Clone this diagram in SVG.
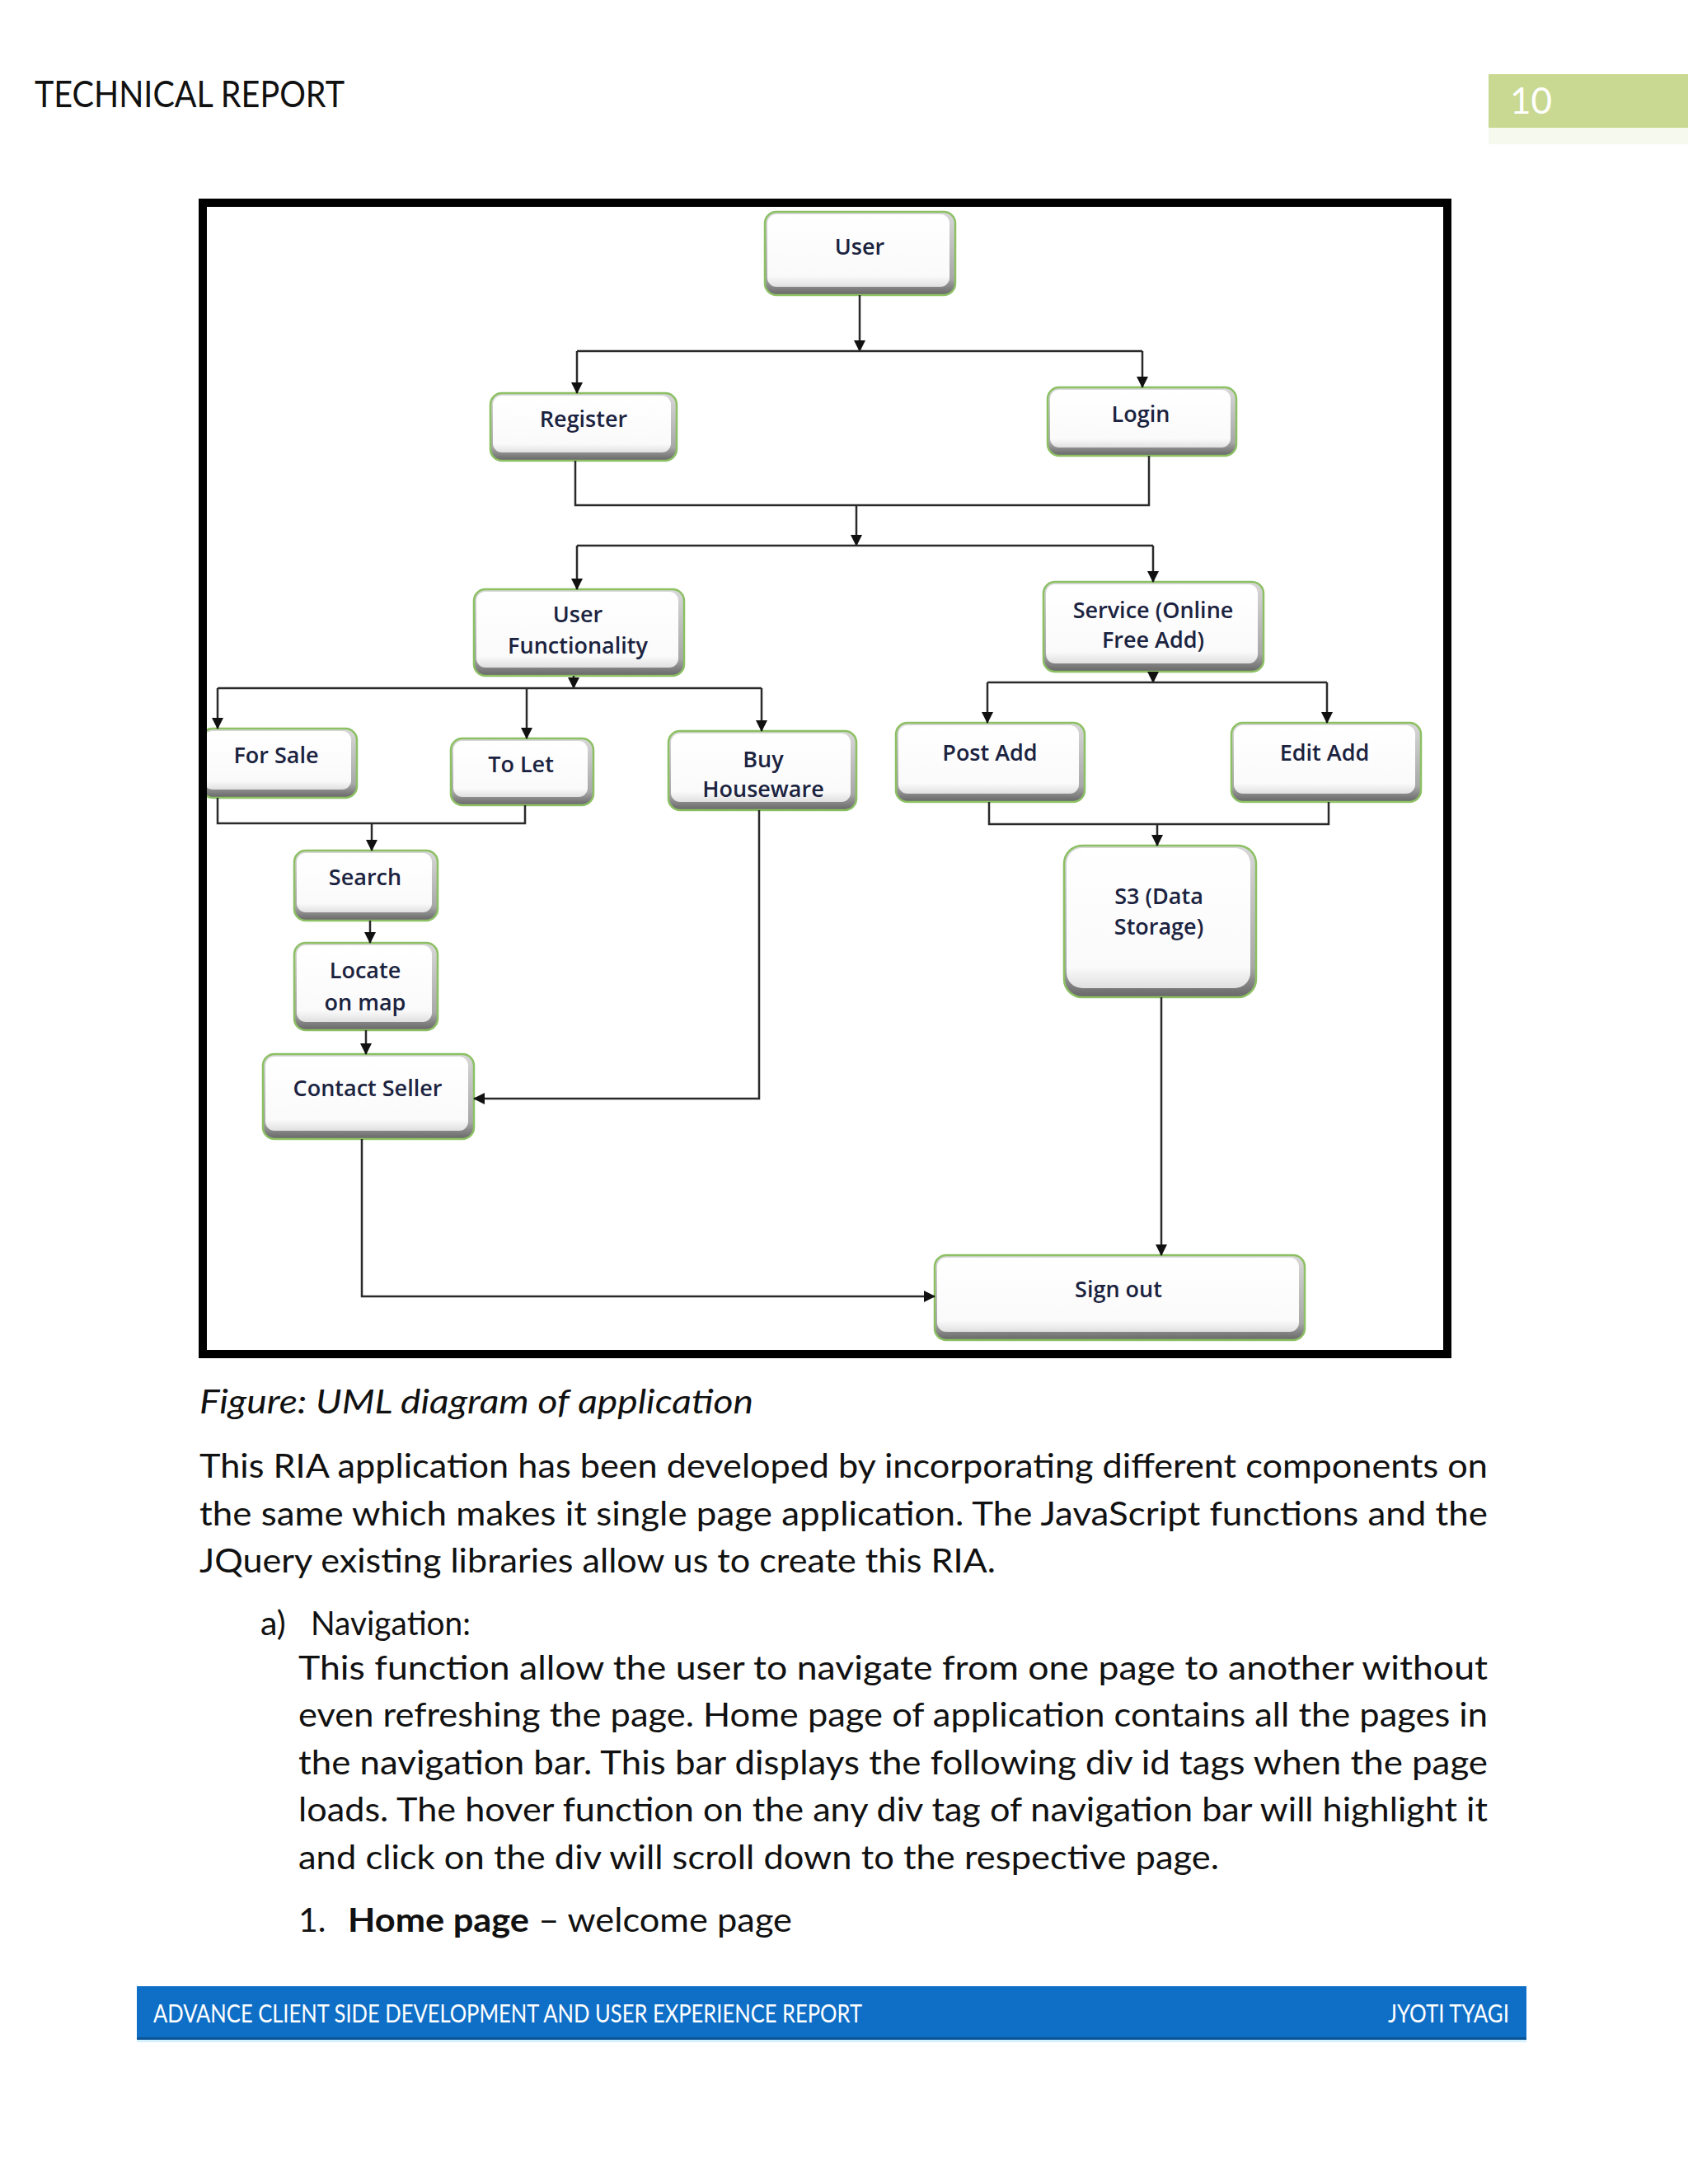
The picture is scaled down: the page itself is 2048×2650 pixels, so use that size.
<svg xmlns="http://www.w3.org/2000/svg" width="2048" height="2650" viewBox="0 0 2048 2650">
<defs>
<linearGradient id="shade" x1="0" y1="0" x2="0" y2="1">
<stop offset="0" stop-color="#d8d8d8"/>
<stop offset="0.8" stop-color="#a8a8a8"/>
<stop offset="1" stop-color="#666666"/>
</linearGradient>
<linearGradient id="face" x1="0" y1="0" x2="0" y2="1">
<stop offset="0" stop-color="#ffffff"/>
<stop offset="0.85" stop-color="#fafafa"/>
<stop offset="1" stop-color="#e0e0e0"/>
</linearGradient>
<marker id="arr" markerUnits="userSpaceOnUse" markerWidth="14" markerHeight="14" refX="13" refY="7" orient="auto">
<path d="M0,0 L14,7 L0,14 z" fill="#111"/>
</marker>
<style>
.sh{fill:url(#shade)}
.fc{fill:url(#face)}
.bd{fill:none;stroke:#8cc063;stroke-width:2.5}
.nt{font-family:"Open Sans","Liberation Sans",sans-serif;font-size:27px;font-weight:600;fill:#1b2340;text-anchor:middle}
.cn{fill:none;stroke:#2a2a2a;stroke-width:2.5}
.ca{fill:none;stroke:#2a2a2a;stroke-width:2.5;marker-end:url(#arr)}
.body{font-family:Lato,"Open Sans","Liberation Sans",sans-serif;font-size:41px;fill:#111}
</style>
</defs>
<rect width="2048" height="2650" fill="#fff"/>

<!-- header -->
<text x="42" y="130" font-family="Lato,'Open Sans',sans-serif" font-size="44" fill="#111" textLength="376" lengthAdjust="spacingAndGlyphs">TECHNICAL REPORT</text>
<rect x="1806" y="90" width="242" height="65" fill="#c9d991"/>
<rect x="1806" y="155" width="242" height="20" fill="#f6f9ee"/>
<text x="1832" y="138" font-family="Lato,'Open Sans',sans-serif" font-size="44" fill="#fff">10</text>

<!-- nodes -->
<g id="n-user"><rect class="sh" x="928" y="257" width="231" height="101" rx="14"/><rect class="fc" x="931" y="260" width="221" height="88" rx="11"/><rect class="bd" x="928" y="257" width="231" height="101" rx="14"/><text class="nt" x="1043" y="309">User</text></g>
<g id="n-register"><rect class="sh" x="595" y="477" width="226" height="82" rx="14"/><rect class="fc" x="598" y="480" width="216" height="69" rx="11"/><rect class="bd" x="595" y="477" width="226" height="82" rx="14"/><text class="nt" x="708" y="518">Register</text></g>
<g id="n-login"><rect class="sh" x="1271" y="470" width="229" height="83" rx="14"/><rect class="fc" x="1274" y="473" width="219" height="70" rx="11"/><rect class="bd" x="1271" y="470" width="229" height="83" rx="14"/><text class="nt" x="1384" y="512">Login</text></g>
<g id="n-userfunc"><rect class="sh" x="575" y="715" width="255" height="105" rx="14"/><rect class="fc" x="578" y="718" width="245" height="92" rx="11"/><rect class="bd" x="575" y="715" width="255" height="105" rx="14"/><text class="nt" x="701" y="755">User</text><text class="nt" x="701" y="793">Functionality</text></g>
<g id="n-service"><rect class="sh" x="1266" y="706" width="267" height="109" rx="14"/><rect class="fc" x="1269" y="709" width="257" height="96" rx="11"/><rect class="bd" x="1266" y="706" width="267" height="109" rx="14"/><text class="nt" x="1399" y="750">Service (Online</text><text class="nt" x="1399" y="786">Free Add)</text></g>
<g id="n-forsale"><rect class="sh" x="244" y="884" width="189" height="84" rx="14"/><rect class="fc" x="247" y="887" width="179" height="71" rx="11"/><rect class="bd" x="244" y="884" width="189" height="84" rx="14"/><text class="nt" x="335" y="926">For Sale</text></g>
<g id="n-tolet"><rect class="sh" x="547" y="896" width="173" height="81" rx="14"/><rect class="fc" x="550" y="899" width="163" height="68" rx="11"/><rect class="bd" x="547" y="896" width="173" height="81" rx="14"/><text class="nt" x="632" y="937">To Let</text></g>
<g id="n-buy"><rect class="sh" x="811" y="887" width="228" height="96" rx="14"/><rect class="fc" x="814" y="890" width="218" height="83" rx="11"/><rect class="bd" x="811" y="887" width="228" height="96" rx="14"/><text class="nt" x="926" y="931">Buy</text><text class="nt" x="926" y="967">Houseware</text></g>
<g id="n-postadd"><rect class="sh" x="1087" y="877" width="229" height="96" rx="14"/><rect class="fc" x="1090" y="880" width="219" height="83" rx="11"/><rect class="bd" x="1087" y="877" width="229" height="96" rx="14"/><text class="nt" x="1201" y="923">Post Add</text></g>
<g id="n-editadd"><rect class="sh" x="1494" y="877" width="230" height="96" rx="14"/><rect class="fc" x="1497" y="880" width="220" height="83" rx="11"/><rect class="bd" x="1494" y="877" width="230" height="96" rx="14"/><text class="nt" x="1607" y="923">Edit Add</text></g>
<g id="n-search"><rect class="sh" x="357" y="1032" width="174" height="85" rx="14"/><rect class="fc" x="360" y="1035" width="164" height="72" rx="11"/><rect class="bd" x="357" y="1032" width="174" height="85" rx="14"/><text class="nt" x="443" y="1074">Search</text></g>
<g id="n-locate"><rect class="sh" x="357" y="1144" width="174" height="106" rx="14"/><rect class="fc" x="360" y="1147" width="164" height="93" rx="11"/><rect class="bd" x="357" y="1144" width="174" height="106" rx="14"/><text class="nt" x="443" y="1187">Locate</text><text class="nt" x="443" y="1226">on map</text></g>
<g id="n-contact"><rect class="sh" x="319" y="1279" width="256" height="103" rx="14"/><rect class="fc" x="322" y="1282" width="246" height="90" rx="11"/><rect class="bd" x="319" y="1279" width="256" height="103" rx="14"/><text class="nt" x="446" y="1330">Contact Seller</text></g>
<g id="n-s3"><rect class="sh" x="1291" y="1026" width="233" height="184" rx="22"/><rect class="fc" x="1294" y="1029" width="223" height="170" rx="19"/><rect class="bd" x="1291" y="1026" width="233" height="184" rx="22"/><text class="nt" x="1406" y="1097">S3 (Data</text><text class="nt" x="1406" y="1134">Storage)</text></g>
<g id="n-signout"><rect class="sh" x="1134" y="1523" width="449" height="103" rx="14"/><rect class="fc" x="1137" y="1526" width="439" height="90" rx="11"/><rect class="bd" x="1134" y="1523" width="449" height="103" rx="14"/><text class="nt" x="1357" y="1574">Sign out</text></g>

<!-- connectors -->
<g id="connectors">
<path class="ca" d="M1043,358 V426"/>
<path class="cn" d="M700,426 H1386"/>
<path class="ca" d="M700,426 V477"/>
<path class="ca" d="M1386,426 V470"/>
<path class="cn" d="M698,559 V613 H1394 V553"/>
<path class="ca" d="M1039,613 V662"/>
<path class="cn" d="M700,662 H1399"/>
<path class="ca" d="M700,662 V715"/>
<path class="ca" d="M1399,662 V706"/>
<path class="ca" d="M696,820 V835"/>
<path class="cn" d="M264,835 H924"/>
<path class="ca" d="M264,835 V884"/>
<path class="ca" d="M639,835 V896"/>
<path class="ca" d="M924,835 V887"/>
<path class="cn" d="M264,968 V999 H637 V977"/>
<path class="ca" d="M451,999 V1032"/>
<path class="ca" d="M449,1117 V1144"/>
<path class="ca" d="M444,1250 V1279"/>
<path class="ca" d="M921,983 V1333 H575"/>
<path class="ca" d="M439,1382 V1573 H1134"/>
<path class="ca" d="M1399,815 V828"/>
<path class="cn" d="M1198,828 H1610"/>
<path class="ca" d="M1198,828 V877"/>
<path class="ca" d="M1610,828 V877"/>
<path class="cn" d="M1200,973 V1000 H1612 V973"/>
<path class="ca" d="M1404,1000 V1026"/>
<path class="ca" d="M1409,1210 V1523"/>
</g>

<!-- frame -->
<rect x="246" y="246" width="1510" height="1397" fill="none" stroke="#000" stroke-width="10"/>

<!-- caption and body -->
<text x="242" y="1715" class="body" font-style="italic" font-size="43" textLength="672" lengthAdjust="spacingAndGlyphs">Figure: UML diagram of application</text>
<text x="242" y="1793" class="body" textLength="1563" lengthAdjust="spacingAndGlyphs">This RIA application has been developed by incorporating different components on</text>
<text x="242" y="1851" class="body" textLength="1563" lengthAdjust="spacingAndGlyphs">the same which makes it single page application. The JavaScript functions and the</text>
<text x="242" y="1908" class="body" textLength="966" lengthAdjust="spacingAndGlyphs">JQuery existing libraries allow us to create this RIA.</text>
<text x="316" y="1984" class="body">a)</text>
<text x="377" y="1984" class="body" textLength="194" lengthAdjust="spacingAndGlyphs">Navigation:</text>
<text x="362" y="2038" class="body" textLength="1443" lengthAdjust="spacingAndGlyphs">This function allow the user to navigate from one page to another without</text>
<text x="362" y="2095" class="body" textLength="1443" lengthAdjust="spacingAndGlyphs">even refreshing the page. Home page of application contains all the pages in</text>
<text x="362" y="2153" class="body" textLength="1443" lengthAdjust="spacingAndGlyphs">the navigation bar. This bar displays the following div id tags when the page</text>
<text x="362" y="2210" class="body" textLength="1443" lengthAdjust="spacingAndGlyphs">loads. The hover function on the any div tag of navigation bar will highlight it</text>
<text x="362" y="2268" class="body" textLength="1117" lengthAdjust="spacingAndGlyphs">and click on the div will scroll down to the respective page.</text>
<text x="362" y="2344" class="body">1.</text>
<text x="422" y="2344" class="body" textLength="539" lengthAdjust="spacingAndGlyphs"><tspan font-weight="bold">Home page</tspan> – welcome page</text>

<!-- footer -->
<rect x="166" y="2410" width="1686" height="64" fill="#0f6fc6"/>
<rect x="166" y="2472" width="1686" height="3" fill="#0b5596"/>
<rect x="166" y="2475" width="1686" height="3" fill="#d6f2ff"/>
<text x="186" y="2454" font-family="Lato,'Open Sans',sans-serif" font-size="30" fill="#fff" textLength="860" lengthAdjust="spacingAndGlyphs">ADVANCE CLIENT SIDE DEVELOPMENT AND USER EXPERIENCE REPORT</text>
<text x="1684" y="2454" font-family="Lato,'Open Sans',sans-serif" font-size="30" fill="#fff" textLength="147" lengthAdjust="spacingAndGlyphs">JYOTI TYAGI</text>
</svg>
